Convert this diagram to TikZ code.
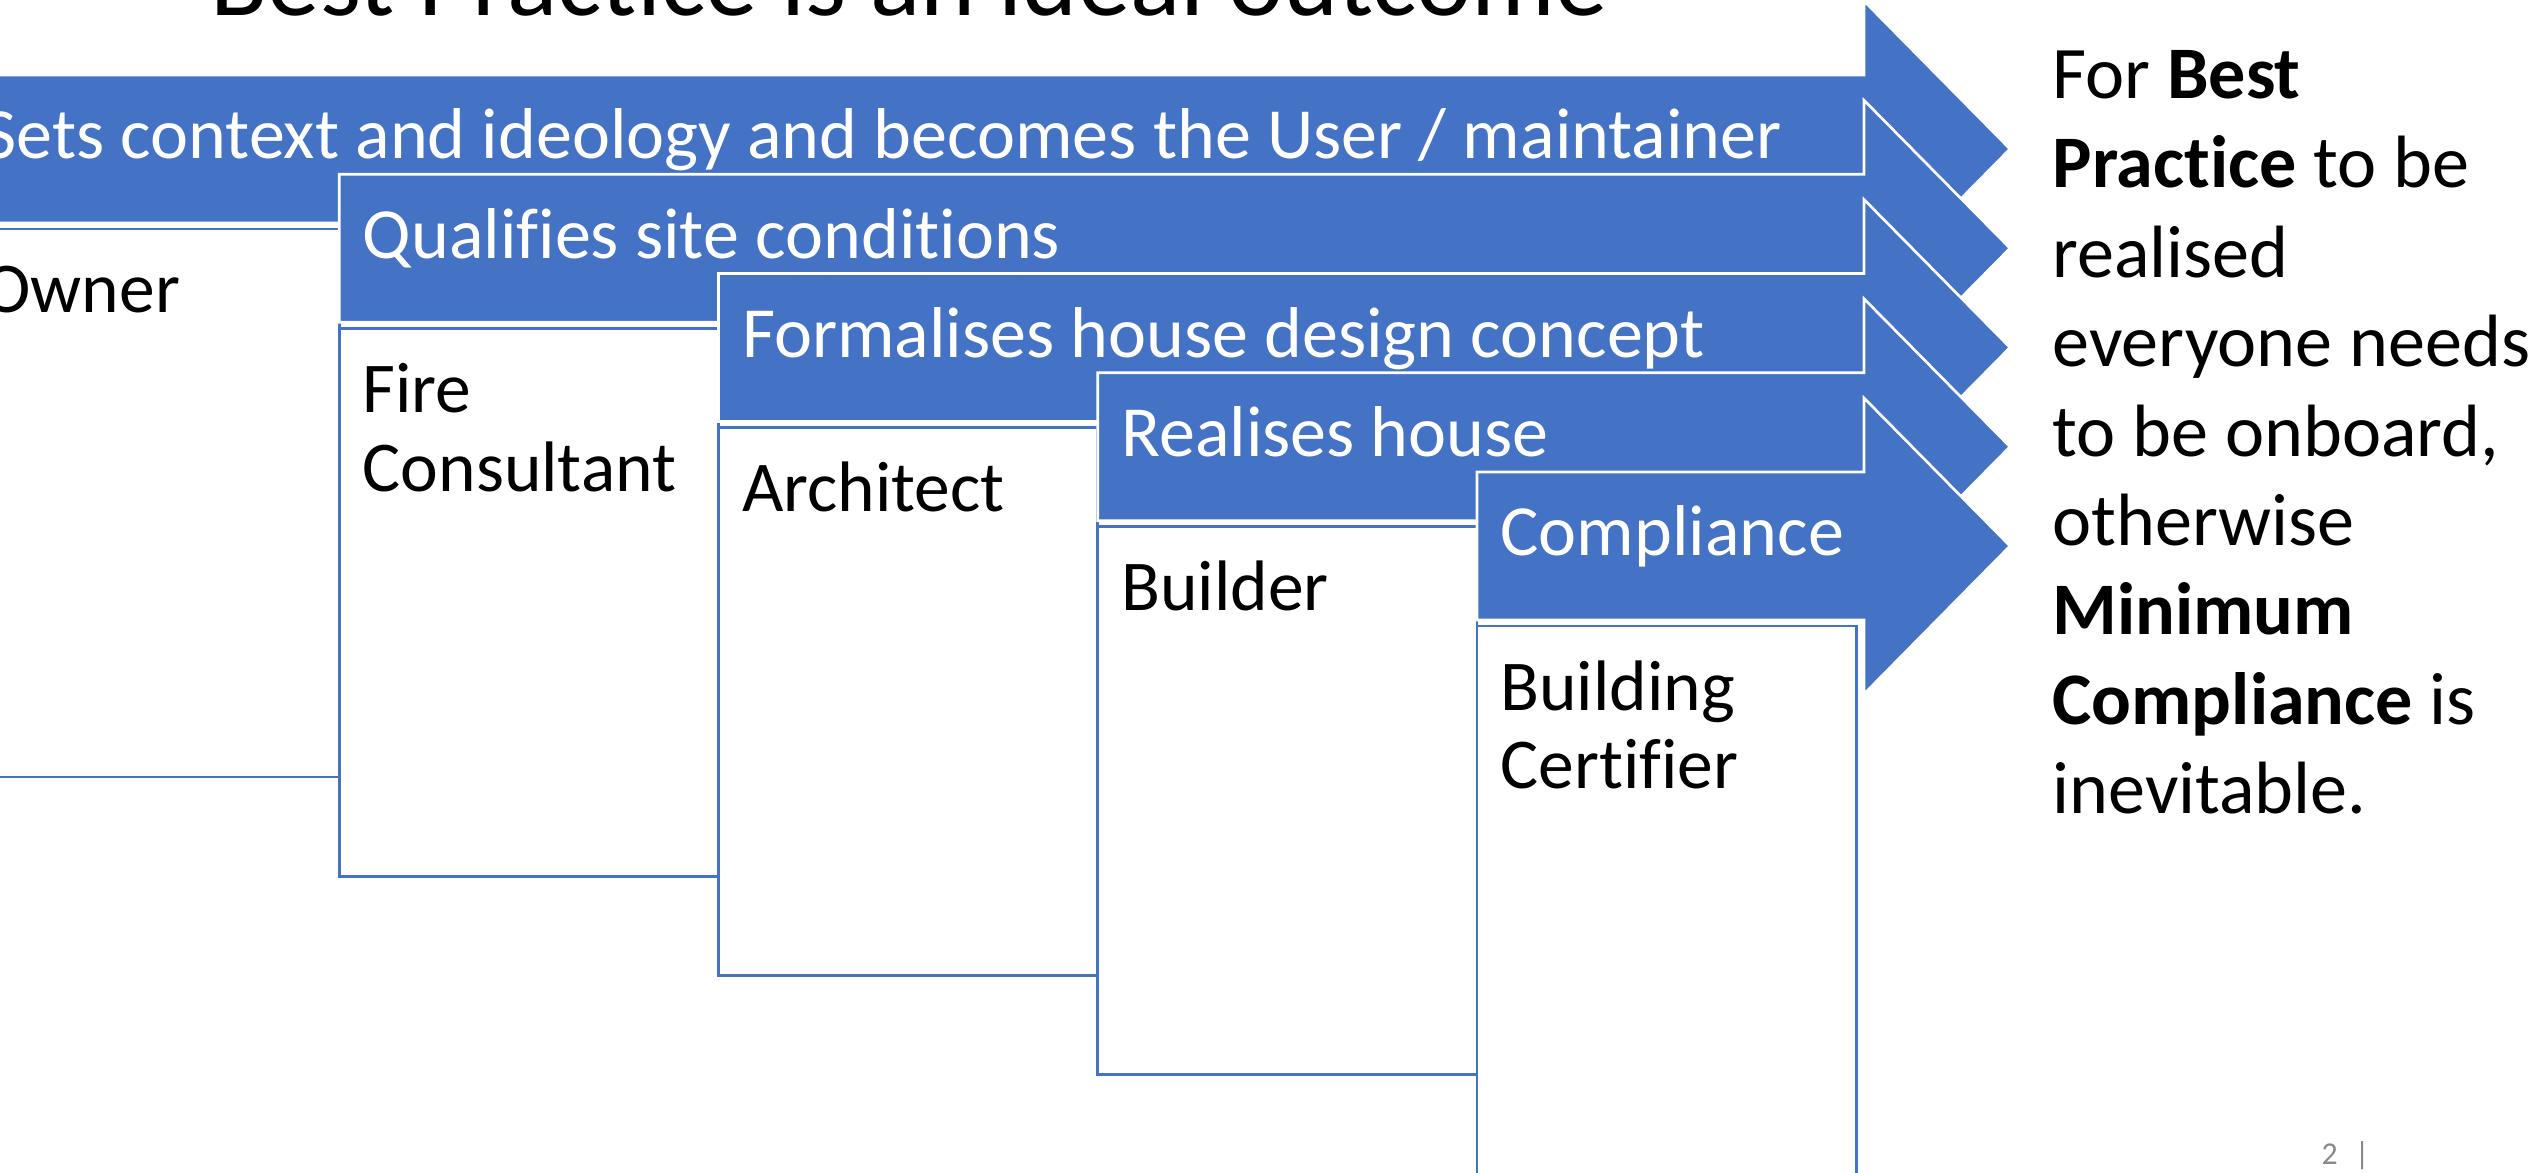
\documentclass[tikz,border=0pt]{standalone}
\usepackage{fontspec}
\setmainfont{Carlito}[Ligatures=NoCommon]
\definecolor{accentblue}{HTML}{4472C4}
\definecolor{slidegray}{HTML}{898989}
% two stacked lines whose baseline is the first line
\newcommand{\stacklines}[2]{\vtop{\hbox{#1}\hbox{#2}}}

\begin{document}
\begin{tikzpicture}[x=0.37766pt,y=-0.37766pt,
  stagearrow/.style={fill=accentblue,draw=white,line width=1pt,line join=miter},
  rolebox/.style={fill=white,draw=accentblue,line width=1pt},
  bartext/.style={anchor=base west,inner sep=0pt,text=white,font=\fontsize{27.2}{32.6}\selectfont},
  roletext/.style={anchor=base west,inner sep=0pt,text=black,font=\fontsize{27}{29.8}\selectfont}]
\useasboundingbox (0,0) rectangle (2542,1173);
\clip (0,0) rectangle (2542,1173);
\fill[white] (0,0) rectangle (2542,1173);

% slide title
\node[anchor=base,inner sep=0pt,font=\fontsize{39.6}{47.5}\selectfont] (title) at (909,16) {Best Practice is an ideal outcome};

% staggered stages: role box below, arrow with its task on top
\foreach \i/\bartxt/\roletxt in {
  0/{Sets context and ideology and becomes the User / maintainer}/{Owner},
  1/{Qualifies site conditions}/{\stacklines{Fire}{Consultant}},
  2/{Formalises house design concept}/{Architect},
  3/{Realises house}/{Builder},
  4/{Compliance}/{\stacklines{Building}{Certifier}}}{
  \pgfmathsetmacro\c{149+99.25*\i}
  \pgfmathsetmacro\L{-40+379.25*\i}
  \pgfmathsetmacro\R{\L+379.25}
  \draw[rolebox] (\L,\c+80) rectangle (\R,\c+628);
  \node[roletext] (role\i) at (\L+23,\c+164) {\roletxt};
  \draw[stagearrow] (\L,\c-74) -- (1864,\c-74) -- (1864,\c-148) -- (2010,\c)
        -- (1864,\c+148) -- (1864,\c+74) -- (\L,\c+74) -- cycle;
  \node[bartext] (bar\i) at (\L+23,\c+10) {\bartxt};
}

% closing statement
\node[anchor=base west,inner sep=0pt,font=\fontsize{28}{33.76}\selectfont] (note) at (2052,98.5)
  {\vtop{\hbox{For \textbf{Best}}
         \hbox{\textbf{Practice} to be}
         \hbox{realised}
         \hbox{everyone needs}
         \hbox{to be onboard,}
         \hbox{otherwise}
         \hbox{\textbf{Minimum}}
         \hbox{\textbf{Compliance} is}
         \hbox{inevitable.}}};

% slide number
\node[anchor=base west,inner sep=0pt,text=slidegray,font=\fontsize{12}{14}\selectfont] (pagenum) at (2321,1164) {2\hspace{6.5pt}|};
\end{tikzpicture}
\end{document}
